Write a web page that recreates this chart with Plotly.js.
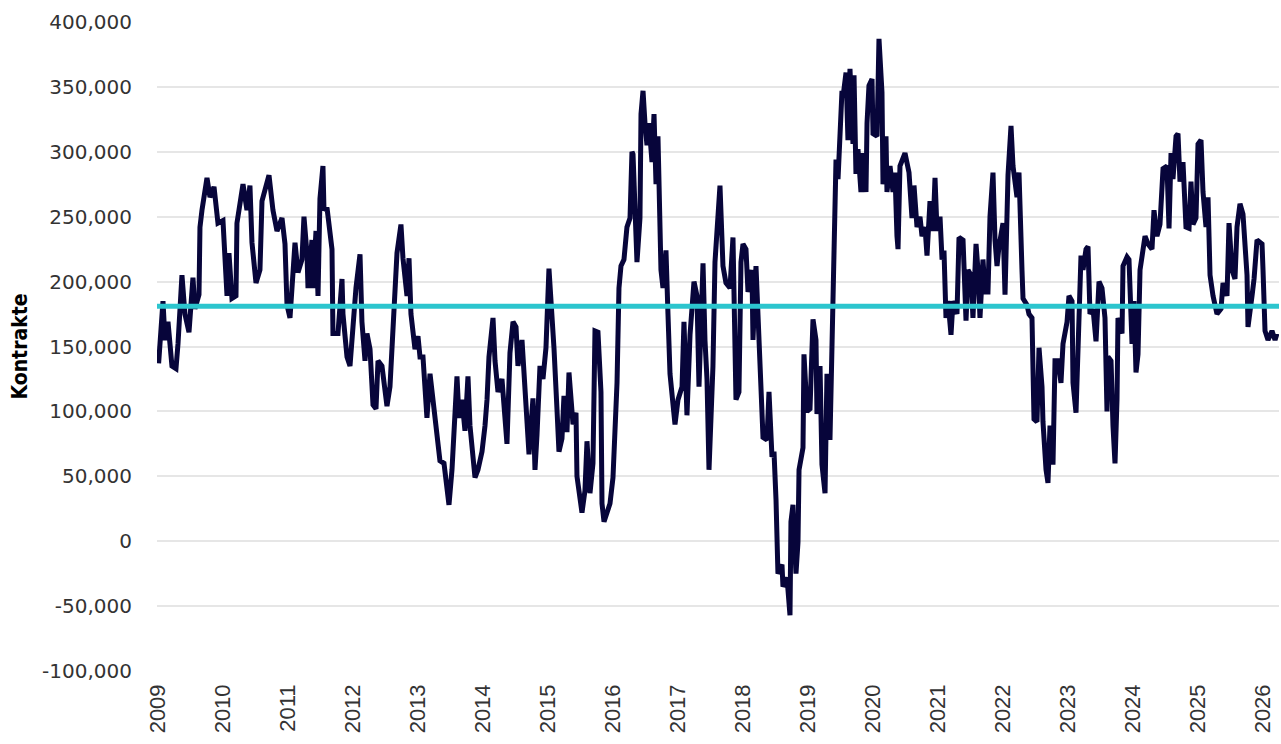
<!DOCTYPE html>
<html>
<head>
<meta charset="utf-8">
<script src="https://cdn.plot.ly/plotly-3.0.1.min.js"></script>
<style>html,body{margin:0;padding:0;background:#fff;}#chart{width:1281px;height:744px;}</style>
</head>
<body>
<div id="chart"></div>
<script>
// Decimal year of each observation
const years = [
2009.010,2009.077,2009.108,2009.154,2009.215,2009.277,2009.308,2009.369,2009.415,2009.477,2009.538,2009.569,2009.631,2009.646,2009.677,2009.754,2009.800,2009.862,2009.923,
2010.000,2010.062,2010.092,2010.138,2010.200,2010.215,2010.308,2010.369,2010.415,2010.446,2010.508,2010.569,2010.600,2010.708,2010.769,2010.831,2010.908,2010.954,2010.985,
2011.031,2011.077,2011.108,2011.154,2011.215,2011.246,2011.292,2011.308,2011.369,2011.385,2011.431,2011.462,2011.492,2011.538,2011.554,2011.600,2011.631,2011.677,2011.692,2011.769,2011.831,2011.846,2011.908,2011.954,
2012.000,2012.046,2012.108,2012.138,2012.185,2012.215,2012.262,2012.308,2012.354,2012.385,2012.446,2012.477,2012.523,2012.569,2012.615,2012.677,2012.738,2012.769,2012.831,2012.862,2012.892,2012.954,
2013.000,2013.031,2013.077,2013.138,2013.185,2013.231,2013.292,2013.338,2013.400,2013.446,2013.477,2013.523,2013.554,2013.600,2013.631,2013.677,2013.723,2013.769,2013.800,2013.831,2013.877,2013.923,2013.985,
2014.031,2014.062,2014.092,2014.154,2014.185,2014.231,2014.292,2014.338,2014.369,2014.415,2014.462,2014.508,2014.538,2014.600,2014.631,2014.677,2014.708,2014.769,2014.800,2014.831,2014.877,2014.923,2014.969,
2015.015,2015.062,2015.092,2015.138,2015.169,2015.215,2015.246,2015.292,2015.323,2015.385,2015.431,2015.446,2015.492,2015.523,2015.569,2015.600,2015.646,2015.692,2015.723,2015.769,2015.815,2015.831,2015.862,2015.908,2015.954,
2016.000,2016.015,2016.062,2016.092,2016.123,2016.169,2016.215,2016.262,2016.292,2016.308,2016.369,2016.415,2016.431,2016.462,2016.492,2016.523,2016.554,2016.600,2016.631,2016.662,2016.692,2016.738,2016.769,2016.815,2016.846,2016.877,2016.954,
2017.000,2017.062,2017.092,2017.138,2017.185,2017.246,2017.292,2017.323,2017.385,2017.415,2017.446,2017.477,2017.538,2017.569,2017.600,2017.646,2017.692,2017.738,2017.800,2017.846,2017.892,2017.938,2017.969,
2018.000,2018.046,2018.077,2018.138,2018.154,2018.200,2018.231,2018.277,2018.308,2018.369,2018.400,2018.446,2018.477,2018.508,2018.538,2018.600,2018.615,2018.677,2018.723,2018.738,2018.769,2018.815,2018.846,2018.862,2018.923,2018.938,2018.985,
2019.031,2019.077,2019.123,2019.138,2019.185,2019.215,2019.262,2019.292,2019.338,2019.385,2019.431,2019.462,2019.523,2019.538,2019.585,2019.615,2019.646,2019.692,2019.708,2019.738,2019.769,2019.815,2019.846,2019.892,2019.908,2019.938,2019.985,
2020.000,2020.062,2020.092,2020.138,2020.154,2020.200,2020.215,2020.262,2020.308,2020.338,2020.369,2020.385,2020.415,2020.492,2020.554,2020.600,2020.631,2020.677,2020.723,2020.754,2020.800,2020.831,2020.877,2020.923,2020.954,2020.985,
2021.031,2021.062,2021.092,2021.123,2021.154,2021.200,2021.231,2021.292,2021.323,2021.385,2021.431,2021.462,2021.508,2021.538,2021.585,2021.615,2021.646,2021.692,2021.723,2021.769,2021.800,2021.846,2021.877,2021.908,2021.938,
2022.000,2022.031,2022.077,2022.123,2022.154,2022.215,2022.246,2022.292,2022.308,2022.369,2022.400,2022.446,2022.477,2022.523,2022.554,2022.600,2022.615,2022.662,2022.692,2022.723,2022.769,2022.800,2022.846,2022.892,2022.923,2022.985,
2023.015,2023.062,2023.077,2023.123,2023.154,2023.200,2023.231,2023.277,2023.308,2023.338,2023.385,2023.431,2023.477,2023.523,2023.569,2023.600,2023.615,2023.662,2023.692,2023.723,2023.754,2023.769,2023.831,2023.846,2023.908,2023.938,2023.985,
2024.015,2024.046,2024.077,2024.108,2024.138,2024.185,2024.231,2024.292,2024.323,2024.369,2024.415,2024.462,2024.523,2024.554,2024.585,2024.615,2024.662,2024.692,2024.723,2024.769,2024.815,2024.862,2024.892,2024.923,2024.969,
2025.000,2025.046,2025.077,2025.123,2025.154,2025.185,2025.231,2025.292,2025.354,2025.385,2025.446,2025.477,2025.523,2025.569,2025.600,2025.646,2025.692,2025.754,2025.769,2025.831,2025.862,2025.908,2025.985,
2026.000,2026.031,2026.077,2026.138,2026.185,2026.215
];

// Net positions (contracts)
const netPositions = [
137000,185000,155000,169000,135000,133000,152000,205000,175000,161000,203000,179000,190000,242000,255000,280000,265000,273000,245000,
247000,189000,222000,187000,189000,245000,275000,255000,274000,230000,199000,209000,262000,282000,255000,239000,249000,229000,182000,
172000,209000,230000,207000,217000,250000,222000,195000,232000,195000,239000,189000,264000,289000,255000,257000,242000,225000,160000,160000,202000,175000,142000,135000,
165000,195000,221000,169000,139000,160000,148000,105000,102000,139000,135000,119000,104000,119000,169000,222000,244000,218000,189000,218000,175000,148000,
158000,142000,142000,95000,129000,109000,85000,62000,60000,35000,28000,55000,82000,127000,95000,109000,85000,127000,89000,72000,49000,55000,69000,
89000,109000,142000,172000,139000,115000,125000,92000,75000,145000,169000,165000,135000,155000,132000,102000,67000,110000,55000,82000,135000,125000,149000,
210000,175000,149000,102000,69000,79000,112000,84000,130000,90000,99000,50000,32000,22000,39000,77000,37000,60000,162000,161000,115000,29000,15000,22000,29000,
49000,69000,122000,195000,212000,217000,242000,249000,300000,298000,215000,249000,329000,347000,322000,305000,322000,292000,329000,275000,312000,209000,195000,224000,175000,129000,90000,
109000,119000,169000,97000,159000,200000,189000,119000,214000,155000,125000,55000,135000,215000,240000,274000,212000,199000,195000,234000,109000,115000,215000,
229000,225000,192000,209000,155000,212000,175000,109000,80000,78000,115000,65000,69000,32000,-25000,-18000,-35000,-28000,-57000,15000,28000,-25000,-1000,55000,72000,144000,100000,
102000,171000,155000,98000,135000,59000,37000,129000,78000,207000,294000,279000,347000,342000,361000,309000,364000,306000,359000,283000,302000,269000,299000,269000,322000,351000,356000,
314000,312000,387000,346000,275000,312000,269000,289000,269000,284000,235000,225000,289000,299000,284000,249000,274000,242000,250000,235000,242000,220000,262000,239000,280000,239000,
250000,217000,224000,172000,185000,159000,185000,175000,234000,232000,170000,209000,205000,172000,229000,209000,172000,217000,192000,192000,250000,284000,232000,212000,227000,
245000,190000,282000,320000,289000,265000,284000,209000,187000,182000,175000,172000,94000,92000,149000,119000,92000,55000,45000,89000,59000,139000,139000,122000,152000,169000,
189000,185000,122000,99000,152000,220000,209000,225000,227000,175000,179000,154000,200000,195000,172000,100000,142000,139000,89000,60000,109000,172000,160000,212000,219000,217000,152000,
185000,130000,144000,209000,222000,235000,229000,225000,255000,235000,244000,287000,289000,241000,299000,279000,312000,314000,277000,292000,242000,241000,277000,244000,249000,
306000,309000,269000,242000,265000,205000,189000,175000,179000,199000,189000,245000,209000,202000,242000,260000,252000,205000,165000,189000,202000,232000,229000,
209000,162000,155000,162000,155000,160000
];

// Long-term average of the net position
const averagePosition = 181000;

// Axis ticks
const yTickVals = [-100000,-50000,0,50000,100000,150000,200000,250000,300000,350000,400000];
const yTickText = ["-100,000","-50,000","0","50,000","100,000","150,000","200,000","250,000","300,000","350,000","400,000"];
const xTickVals = [2009,2010,2011,2012,2013,2014,2015,2016,2017,2018,2019,2020,2021,2022,2023,2024,2025,2026];
const xTickText = xTickVals.map(String);
const yAxisTitle = "Kontrakte";

const trace = {
  x: years,
  y: netPositions,
  type: 'scatter',
  mode: 'lines',
  line: {color: '#07053a', width: 5},
  hoverinfo: 'x+y'
};

const layout = {
  width: 1281,
  height: 744,
  margin: {l: 157, r: 2, t: 22, b: 73},
  paper_bgcolor: '#ffffff',
  plot_bgcolor: '#ffffff',
  showlegend: false,
  xaxis: {
    type: 'linear',
    range: [2008.985, 2026.246],
    tickvals: xTickVals,
    ticktext: xTickText,
    tickangle: -90,
    showgrid: false,
    zeroline: false,
    showline: false,
    ticks: '',
    ticklabelstandoff: 8,
    tickfont: {family: 'Liberation Sans, Arial, sans-serif', size: 22, color: '#333333'}
  },
  yaxis: {
    range: [-100000, 400000],
    tickvals: yTickVals,
    ticktext: yTickText,
    showgrid: true,
    gridcolor: '#e6e6e6',
    gridwidth: 2,
    zeroline: false,
    showline: false,
    ticks: '',
    ticklabelstandoff: 24,
    tickfont: {family: 'DejaVu Sans, sans-serif', size: 20, color: '#333333'},
    title: {
      text: '<b>' + yAxisTitle + '</b>',
      standoff: 8,
      font: {family: 'DejaVu Sans Condensed, DejaVu Sans, sans-serif', size: 21, color: '#000000'}
    }
  },
  shapes: [{
    type: 'line',
    xref: 'paper', x0: 0, x1: 1,
    yref: 'y', y0: averagePosition, y1: averagePosition,
    line: {color: '#2cc5ce', width: 5},
    layer: 'above'
  }]
};

Plotly.newPlot('chart', [trace], layout, {displayModeBar: false, staticPlot: true});
</script>
</body>
</html>
